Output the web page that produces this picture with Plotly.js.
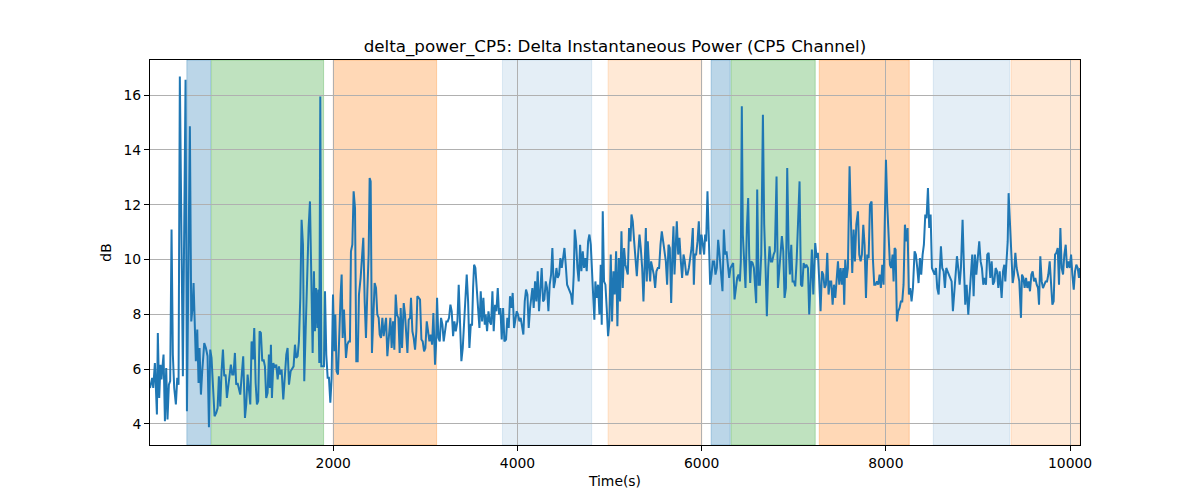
<!DOCTYPE html>
<html>
<head>
<meta charset="utf-8">
<script src="https://cdn.plot.ly/plotly-3.0.1.min.js"></script>
<style>
  html, body { margin: 0; padding: 0; background: #ffffff; }
  #chart { width: 1200px; height: 500px; }
</style>
</head>
<body>
<div id="chart"></div>
<script>
// delta power samples, split in chunks of ~1300 s (time in s, power in dB)
const time1 = [10,34,45,63,74,85,95,110,124,135, 146,157,172,186,200,215,229,244,258,273,
  291,306,320,334,367,396,411,443,458,472, 483,497,508,523,537,548,563,577,599,617,
  635,650,664,678,697,711,729,744,758,773, 787,802,816,831,845,860,874,888,903,917,
  932,946,961,975,990,1008,1022,1041,1055,1070, 1084,1099,1113,1128,1142,1157,1171,1185,1200,1214,
  1229,1243,1258,1272,1287,1301];
const db1 = [5.31,5.68,5.31,6.22,5.31,4.34,7.32,4.95,6.16,5.62, 6.10,6.53,4.10,6.04,4.16,5.43,5.56,11.09,6.53,5.31,
  4.71,5.68,5.43,16.68,5.74,16.56,4.46,14.86,7.74,8.23, 9.14,7.87,6.29,7.44,5.49,6.77,5.07,5.92,6.95,6.77,
  6.47,3.88,6.71,6.41,5.31,4.28,4.40,4.58,5.74,4.64, 5.92,6.71,5.74,5.80,4.95,5.31,5.68,6.16,5.80,5.80,
  6.59,5.43,5.49,5.31,5.07,5.86,6.47,4.22,4.71,5.80, 5.31,4.71,7.01,6.35,7.50,5.49,4.71,4.83,7.38,7.32,
  6.29,6.35,6.10,4.95,5.13,6.53];

const time2 = [1312,1323,1334,1349,1367,1381,1396,1410,1425,1439, 1457,1475,1490,1504,1519,1537,1555,1569,1584,1598,
  1613,1627,1642,1656,1671,1685,1700,1718,1732,1747, 1761,1776,1790,1801,1812,1827,1837,1848,1859,1870,
  1884,1899,1910,1924,1939,1953,1968,1982,1997,2011, 2022,2036,2051,2065,2080,2091,2102,2116,2127,2138,
  2152,2167,2181,2192,2207,2221,2236,2250,2265,2279, 2297,2312,2326,2341,2355,2370,2384,2395,2406,2420,
  2435,2449,2464,2478,2493,2504,2518,2533,2547];
const db2 = [5.31,6.89,4.95,6.22,6.04,6.16,5.62,6.10,5.80,5.98, 4.89,5.80,6.53,6.77,5.43,5.92,6.04,6.10,6.89,6.41,
  6.47,7.01,8.60,11.45,10.54,5.56,7.38,10.18,11.15,12.12, 9.69,6.59,9.57,7.38,8.96,7.50,8.90,6.22,15.95,6.10,
  6.10,6.10,8.84,6.53,5.68,5.68,4.77,5.68,8.72,6.65, 7.99,5.92,5.80,7.74,8.72,9.45,7.14,8.17,7.14,6.41,
  6.89,7.01,7.01,10.30,10.54,12.49,11.88,6.29,6.29,8.72, 9.33,9.93,10.79,8.47,7.14,8.84,10.18,12.97,12.85,6.59,
  7.99,9.14,8.96,7.99,7.87,7.26,7.14,7.87,7.20];

const time3 = [2573,2587,2605,2620,2634,2649,2663,2678,2692,2707, 2721,2732,2747,2765,2779,2794,2805,2819,2834,2844,
  2859,2873,2888,2902,2913,2928,2942,2957,2971,2986, 3000,3015,3029,3044,3058,3073,3087,3105,3116,3127,
  3141,3156,3170,3185,3199,3214,3228,3243,3257,3272, 3286,3301,3315,3330,3348,3362,3377,3391,3406,3420,
  3435,3449,3464,3478,3493,3507,3518,3529,3543,3558, 3572,3587,3601,3616,3630,3645,3655,3670,3685,3699,
  3713,3728,3742,3757,3771,3786,3800,3815,3829,3844, 3858];
const db3 = [7.87,6.47,7.20,7.87,6.77,7.74,6.71,8.72,7.99,7.87, 6.59,8.23,6.77,8.41,7.99,7.26,6.59,7.80,7.87,8.60,
  7.38,7.14,6.71,7.38,8.66,8.60,8.54,7.08,7.01,6.65, 6.77,7.74,7.26,7.01,7.26,6.89,8.05,6.16,6.89,8.60,
  7.14,7.01,7.87,7.62,7.01,7.50,7.74,7.74,7.87,8.35, 8.11,7.20,7.74,7.38,7.74,9.08,7.38,6.29,6.77,7.74,
  8.23,9.45,8.47,6.77,7.62,7.62,8.96,9.81,9.69,8.72, 8.23,7.50,8.84,7.74,8.60,7.62,7.99,7.38,8.11,7.74,
  7.62,8.84,7.38,8.35,8.11,8.96,7.99,8.23,7.08,8.23, 7.01];

const time4 = [3876,3890,3905,3919,3934,3948,3963,3977,3992,4006, 4021,4035,4050,4064,4079,4093,4108,4122,4137,4147,
  4162,4176,4191,4205,4220,4234,4249,4263,4278,4292, 4307,4321,4336,4350,4365,4379,4394,4408,4423,4437,
  4452,4466,4481,4495,4510,4524,4539,4553,4567,4582, 4596,4611,4622,4636,4651,4665,4680,4694,4709,4723,
  4738,4752,4767,4781,4796,4810,4825,4835,4846,4861, 4875,4890,4904,4915,4926,4940,4955,4969,4984,4998,
  5013,5027,5042,5056,5071,5085,5100,5114,5129,5143, 5158,5172,5187];
const db4 = [7.08,7.87,7.50,8.66,8.23,8.78,7.50,7.87,8.11,7.99, 7.74,7.87,7.50,7.26,8.47,8.90,8.72,7.50,8.23,8.60,
  8.96,8.23,9.20,8.47,9.57,8.11,8.96,9.69,8.47,8.54, 9.20,8.96,8.11,9.08,9.45,10.42,8.96,9.20,9.69,9.33,
  9.45,10.05,9.69,10.18,10.42,9.81,9.08,8.96,8.84,8.72, 8.35,9.45,11.09,10.66,9.69,9.20,10.54,9.57,10.30,9.69,
  10.05,9.57,10.66,10.91,10.54,9.20,8.47,7.80,9.20,8.60, 9.08,7.99,9.81,7.62,11.76,9.20,9.08,8.23,7.20,7.74,
  10.18,7.74,9.57,8.72,10.30,7.56,10.05,8.47,11.03,8.96, 10.42,9.81,9.57];

const time5 = [5198,5212,5227,5238,5252,5267,5281,5296,5310,5325, 5339,5354,5368,5383,5394,5404,5415,5430,5441,5451,
  5466,5480,5495,5509,5524,5538,5553,5567,5582,5596, 5611,5625,5640,5654,5669,5683,5694,5705,5716,5730,
  5745,5759,5774,5788,5803,5817,5832,5846,5861,5875, 5890,5904,5915,5926,5940,5955,5969,5984,5998,6013,
  6027,6038,6049,6063,6078,6092,6107,6121,6136,6150, 6165,6179,6194,6208,6226,6241,6255,6270,6284,6299,
  6313,6328,6342,6357,6371,6386,6400,6415,6425,6436, 6447,6462,6476,6491,6505];
const db5 = [9.45,11.15,10.66,11.64,11.39,10.66,10.18,9.39,10.18,10.91, 10.42,9.69,8.47,9.93,11.15,9.20,10.66,9.69,9.20,9.93,
  9.69,9.45,8.96,9.57,9.69,9.69,10.54,11.03,10.66,10.18, 9.93,9.08,10.54,10.42,8.41,10.30,11.21,9.45,10.66,11.39,
  10.18,10.79,9.93,9.33,10.18,9.93,9.45,9.45,9.69,10.05, 10.42,11.15,9.08,10.18,10.18,10.66,11.39,10.18,10.91,10.54,
  10.18,10.91,10.66,12.49,10.91,9.08,9.45,9.93,9.93,9.45, 9.69,10.72,10.18,9.57,8.84,11.09,10.18,10.30,9.81,9.33,
  9.69,9.81,9.87,8.54,8.96,9.33,9.45,9.20,9.93,15.59, 10.91,9.69,8.96,11.15,12.24];

const time6 = [6516,6527,6538,6553,6567,6582,6592,6603,6618,6632, 6647,6665,6679,6694,6708,6723,6737,6752,6766,6781,
  6795,6813,6828,6842,6857,6871,6886,6900,6915,6929, 6944,6958,6973,6987,7002,7016,7031,7045,7063,7078,
  7092,7107,7121,7136,7154,7168,7183,7197,7212,7223, 7233,7248,7262,7277,7291,7306,7320,7335,7349,7364,
  7378,7393,7407,7422,7436,7451,7465,7480,7494,7509, 7523,7538,7548,7559,7574,7588,7606,7621,7635,7650,
  7664,7679,7697,7711,7726,7740,7755,7769,7784,7798, 7813,7827];
const db6 = [10.18,9.14,9.93,9.87,9.69,9.08,8.41,12.55,9.08,9.08, 10.18,15.28,11.27,9.69,7.93,9.69,10.48,9.93,9.93,10.18,
  10.30,13.03,8.96,9.57,10.36,10.85,10.30,8.60,8.96,13.34, 10.42,9.45,10.54,9.20,9.20,9.02,9.93,11.27,12.85,9.08,
  9.02,9.87,9.69,9.81,9.69,7.99,8.96,10.36,8.72,9.93, 10.60,10.05,10.24,9.20,8.11,9.57,9.45,8.96,9.08,10.24,
  8.72,9.20,9.20,8.35,9.08,8.60,9.45,9.93,9.08,9.69, 9.08,9.69,8.35,9.99,9.33,9.69,13.40,11.64,9.51,11.09,
  9.93,11.27,11.76,10.18,9.93,10.18,11.27,10.54,8.60,10.18, 10.05,12.00];

const time7 = [7845,7859,7874,7888,7903,7917,7932,7946,7961,7975, 7986,8001,8015,8029,8044,8058,8073,8084,8095,8106,
  8120,8134,8149,8163,8178,8192,8207,8221,8236,8250, 8265,8279,8294,8312,8326,8341,8355,8370,8384,8399,
  8413,8428,8442,8457,8471,8486,8500,8515,8529,8544, 8558,8573,8587,8598,8612,8627,8641,8656,8670,8685,
  8699,8714,8728,8743,8757,8772,8786,8801,8815,8833, 8848,8862,8877,8895,8909,8924,8938,8953,8967,8982,
  9000,9014,9029,9043,9058,9072,9087,9101,9116];
const db7 = [12.12,10.05,9.08,9.08,9.20,9.08,9.45,8.96,9.81,9.08, 10.85,13.64,12.00,10.66,9.81,9.69,10.18,9.20,10.42,10.36,
  7.74,8.11,8.23,8.47,8.47,9.08,11.27,10.66,11.15,8.72, 8.96,8.47,8.96,10.30,10.18,9.69,9.14,10.05,9.45,10.18,
  10.54,11.64,11.51,12.61,11.15,11.64,9.69,9.57,9.45,9.69, 8.96,8.72,9.57,10.48,9.69,9.57,8.96,9.69,9.57,9.45,
  9.33,9.20,8.11,8.84,9.57,10.12,9.69,9.08,9.69,11.45, 9.69,8.35,9.08,7.99,8.72,9.57,10.18,8.66,10.18,9.45,
  10.18,10.66,9.93,9.69,9.08,9.33,9.08,10.18,10.24];

const time8 = [9134,9149,9163,9178,9192,9207,9221,9236,9247,9257, 9272,9286,9297,9312,9323,9333,9348,9362,9377,9391,
  9406,9420,9435,9449,9467,9478,9493,9507,9522,9536, 9551,9565,9580,9594,9609,9623,9638,9652,9663,9677,
  9692,9706,9721,9735,9750,9764,9779,9793,9808,9822, 9837,9851,9866,9880,9895,9909,9924,9938,9953,9967,
  9982,9996,10011,10025,10040,10054,10068,10083,10097,10108];
const db8 = [9.33,9.93,9.08,9.20,9.69,9.57,8.96,9.57,9.20,8.60, 9.57,9.81,9.20,10.18,10.66,12.42,11.39,9.93,9.14,9.45,
  10.24,9.69,9.45,9.20,7.87,9.45,9.33,8.96,9.33,8.96, 9.20,8.84,9.45,9.57,9.20,9.33,9.08,8.96,8.35,10.12,
  9.20,8.96,9.08,9.20,9.20,9.45,9.93,9.33,8.35,8.47, 10.18,10.24,10.42,9.08,11.15,9.69,9.45,10.18,10.54,9.69,
  9.93,9.69,10.18,9.45,8.90,9.57,9.81,9.69,9.33,9.69];

// shaded intervals (s) and which phase each one belongs to
const spanStart = [410, 678, 2000, 3837, 4984, 6103, 6320, 7277, 8515, 9359];
const spanEnd   = [667, 1895, 3122, 4806, 6002, 6310, 7233, 8254, 9344, 10108];
const spanPhase = ['blue', 'green', 'orange', 'lightblue', 'lightorange',
                   'blue', 'green', 'orange', 'lightblue', 'lightorange'];

const xTicks = [2000, 4000, 6000, 8000, 10000];
const yTicks = [4, 6, 8, 10, 12, 14, 16];

const timeSec = [].concat(time1, time2, time3, time4, time5, time6, time7, time8);
const deltaDb = [].concat(db1, db2, db3, db4, db5, db6, db7, db8);

const PHASE_FILL = {
  blue: 'rgba(31,119,180,0.3)',
  green: 'rgba(44,160,44,0.3)',
  orange: 'rgba(255,127,14,0.3)',
  lightblue: 'rgba(31,119,180,0.12)',
  lightorange: 'rgba(255,127,14,0.17)'
};

const FONT = 'DejaVu Sans, sans-serif';

const shapes = spanStart.map((x0, i) => ({
  type: 'rect',
  xref: 'x',
  yref: 'paper',
  x0: x0,
  x1: spanEnd[i],
  y0: 0,
  y1: 1,
  fillcolor: PHASE_FILL[spanPhase[i]],
  line: { width: 1, color: PHASE_FILL[spanPhase[i]] },
  layer: 'below'
}));

const traces = [{
  x: timeSec,
  y: deltaDb,
  type: 'scatter',
  mode: 'lines',
  line: { color: '#1f77b4', width: 2 },
  hoverinfo: 'x+y'
}];

const axisCommon = {
  showline: true,
  mirror: true,
  linecolor: '#000000',
  linewidth: 1,
  ticks: 'outside',
  ticklen: 5,
  tickwidth: 1,
  tickcolor: '#000000',
  showgrid: true,
  gridcolor: '#b0b0b0',
  gridwidth: 1,
  zeroline: false,
  tickfont: { family: FONT, size: 13.9, color: '#000000' }
};

const layout = {
  width: 1200,
  height: 500,
  margin: { l: 150, r: 120, t: 60, b: 55 },
  paper_bgcolor: '#ffffff',
  plot_bgcolor: '#ffffff',
  showlegend: false,
  title: {
    text: 'delta_power_CP5: Delta Instantaneous Power (CP5 Channel)',
    font: { family: FONT, size: 16.7, color: '#000000' },
    x: 0.5,
    xref: 'paper',
    xanchor: 'center',
    y: 1 - 46 / 500,
    yref: 'container',
    yanchor: 'middle'
  },
  xaxis: Object.assign({}, axisCommon, {
    range: [10, 10108],
    tickvals: xTicks,
    ticktext: xTicks.map(String),
    title: { text: 'Time(s)', font: { family: FONT, size: 13.9, color: '#000000' }, standoff: 6 }
  }),
  yaxis: Object.assign({}, axisCommon, {
    range: [3.23, 17.28],
    tickvals: yTicks,
    ticktext: yTicks.map(String),
    title: { text: 'dB', font: { family: FONT, size: 13.9, color: '#000000' }, standoff: 8 }
  }),
  shapes: shapes,
  font: { family: FONT, size: 13.9, color: '#000000' }
};

Plotly.newPlot('chart', traces, layout, { displayModeBar: false, staticPlot: true });
</script>
</body>
</html>
